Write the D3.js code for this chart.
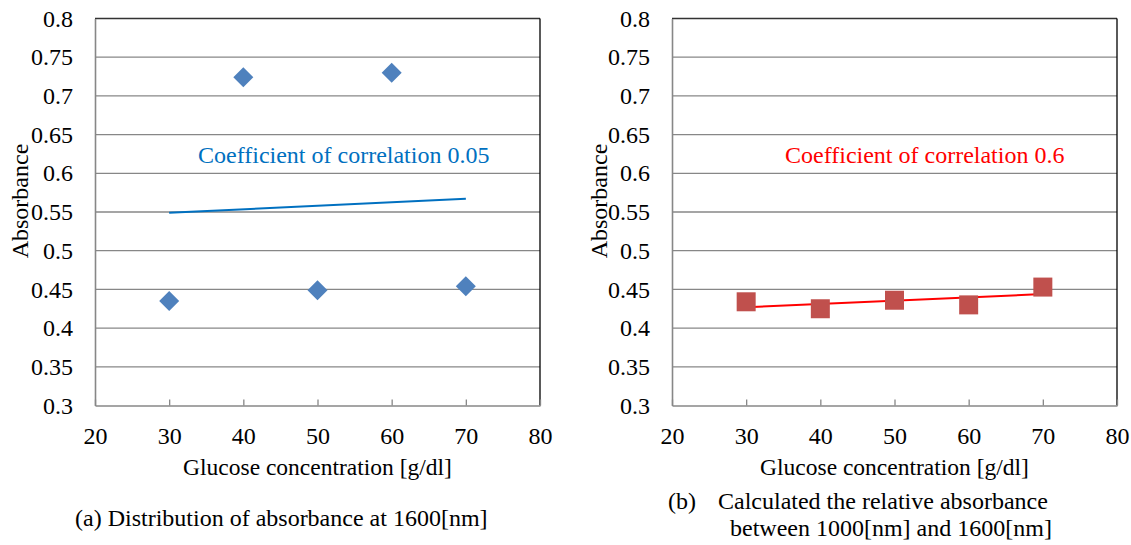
<!DOCTYPE html>
<html>
<head>
<meta charset="utf-8">
<script src="https://cdn.jsdelivr.net/npm/d3@7"></script>
<style>
  body { margin: 0; background: #fff; }
  svg text { font-family: "Liberation Serif", "Times New Roman", serif; fill: #000; }
  .grid line { stroke: #878787; stroke-width: 1.3; }
</style>
</head>
<body>
<svg id="chart" width="1131" height="545"></svg>
<script>
// data
const glucose = [30, 40, 50, 60, 70];
const absorb1600 = [0.435, 0.724, 0.449, 0.730, 0.454];
const relAbsorb = [0.434, 0.425, 0.436, 0.430, 0.453];
const trendX = [30, 70];
const trend1600 = [0.549, 0.567];
const trendRel = [0.427, 0.444];
const xTicks = [20, 30, 40, 50, 60, 70, 80];
const yTicks = [0.3, 0.35, 0.4, 0.45, 0.5, 0.55, 0.6, 0.65, 0.7, 0.75, 0.8];

const width = 445;
const height = 387;
const plotTop = 18.5;

const svg = d3.select("#chart");

function panel(left, values, trend, opts) {
    const g = svg.append("g").attr("transform", `translate(${left},${plotTop})`);

    const x = d3.scaleLinear().domain([20, 80]).range([0, width]);
    const y = d3.scaleLinear().domain([0.3, 0.8]).range([height, 0]);

    // horizontal gridlines
    g.append("g")
        .attr("class", "grid")
        .selectAll("line")
        .data(yTicks.slice(1, -1))
        .join("line")
        .attr("x1", 0).attr("x2", width)
        .attr("y1", d => y(d)).attr("y2", d => y(d));

    // plot border: top dark, right black
    g.append("line").attr("x1", 0).attr("x2", width).attr("y1", 0).attr("y2", 0)
        .style("stroke", "#333").style("stroke-width", 1.5);
    g.append("line").attr("x1", width).attr("x2", width).attr("y1", 0).attr("y2", height)
        .style("stroke", "#000").style("stroke-width", 1.3);

    const xAxis = g.append("g")
        .attr("transform", `translate(0,${height})`)
        .call(d3.axisBottom(x).tickValues(xTicks).tickSizeInner(-6).tickSizeOuter(0).tickPadding(21).tickFormat(d3.format("d")));
    xAxis.select(".domain").style("stroke", "#878787").style("stroke-width", 1.6);
    xAxis.selectAll(".tick line").style("stroke", "#878787").style("stroke-width", 1.3);
    xAxis.selectAll("text").style("font-size", "24px").attr("dy", "0.71em");

    const yAxis = g.append("g")
        .call(d3.axisLeft(y).tickValues(yTicks).tickSize(0).tickPadding(22).tickFormat(d => String(+d.toFixed(2))));
    yAxis.select(".domain").style("stroke", "#878787").style("stroke-width", 1.6);
    yAxis.selectAll("text").style("font-size", "24px");

    // trendline
    g.append("path")
        .datum(trendX.map((d, i) => [d, trend[i]]))
        .attr("d", d3.line().x(d => x(d[0])).y(d => y(d[1])))
        .style("fill", "none")
        .style("stroke", opts.trendColor)
        .style("stroke-width", 2);

    // markers
    const sym = d3.symbol().type(d3.symbolSquare).size(opts.size);
    g.selectAll(".pt")
        .data(glucose.map((d, i) => [d, values[i]]))
        .join("path")
        .attr("class", "pt")
        .attr("d", sym)
        .attr("transform", d => `translate(${x(d[0])},${y(d[1])}) rotate(${opts.rotate})`)
        .style("fill", opts.color);

    g.append("text")
        .attr("x", opts.noteX)
        .attr("y", y(0.6236))
        .attr("dy", "0.35em")
        .style("font-size", "24px")
        .style("fill", opts.trendColor)
        .text(opts.note);

    g.append("text")
        .attr("transform", `translate(${opts.ylabX},${height / 2 - 11}) rotate(-90)`)
        .attr("text-anchor", "middle")
        .attr("dy", "0.35em")
        .style("font-size", "24px")
        .text("Absorbance");

    g.append("text")
        .attr("x", width / 2)
        .attr("y", height + 61)
        .attr("text-anchor", "middle")
        .attr("dy", "0.35em")
        .style("font-size", "23.5px")
        .text("Glucose concentration [g/dl]");

    return g;
}

panel(95, absorb1600, trend1600, {
    color: "#4F81BD", trendColor: "#0070C0", size: 200, rotate: 45,
    note: "Coefficient of correlation 0.05", noteX: 103, ylabX: -75
});

panel(672, relAbsorb, trendRel, {
    color: "#C0504D", trendColor: "#FF0000", size: 361, rotate: 0,
    note: "Coefficient of correlation 0.6", noteX: 113, ylabX: -73
});

// captions
svg.append("text")
    .attr("x", 75).attr("y", 518).attr("dy", "0.35em")
    .style("font-size", "24px")
    .text("(a) Distribution of absorbance at 1600[nm]");

const capB = svg.append("text")
    .attr("y", 501).attr("dy", "0.35em")
    .style("font-size", "24px");
capB.append("tspan").attr("x", 668).text("(b)");
capB.append("tspan").attr("x", 718).text("Calculated the relative absorbance");

svg.append("text")
    .attr("x", 730).attr("y", 528).attr("dy", "0.35em")
    .style("font-size", "24px")
    .text("between 1000[nm] and 1600[nm]");
</script>
</body>
</html>
